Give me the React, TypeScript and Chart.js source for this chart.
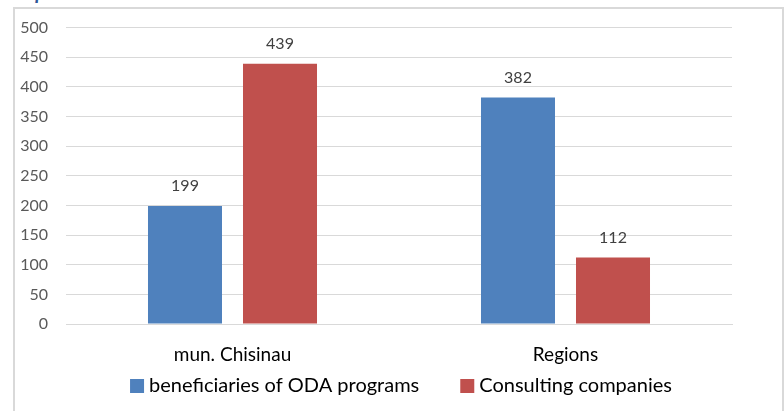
import React, { useEffect, useRef } from "react";
import { Chart, registerables } from "chart.js";

Chart.register(...registerables);

const categories = ["mun. Chisinau", "Regions"];
const seriesNames = ["beneficiaries of ODA programs", "Consulting companies"];
const odaValues = [199, 382];
const consultingValues = [439, 112];
const yTicks = [0, 50, 100, 150, 200, 250, 300, 350, 400, 450, 500];
const colors = ["#4F81BD", "#C0504D"];

const FONT = "Lato, 'Open Sans', sans-serif";

const dataLabelPlugin = {
  id: "dataLabels",
  afterDatasetsDraw(chart: any) {
    const ctx = chart.ctx;
    ctx.save();
    ctx.font = `16px ${FONT}`;
    ctx.fillStyle = "#404040";
    ctx.textAlign = "center";
    ctx.textBaseline = "middle";
    chart.data.datasets.forEach((ds: any, i: number) => {
      const meta = chart.getDatasetMeta(i);
      meta.data.forEach((bar: any, j: number) => {
        ctx.fillText(String(ds.data[j]), bar.x, bar.y - 20);
      });
    });
    ctx.restore();
  },
};

const legendPlugin = {
  id: "customLegend",
  afterDraw(chart: any) {
    const ctx = chart.ctx;
    ctx.save();
    ctx.font = `20px ${FONT}`;
    ctx.textBaseline = "middle";
    ctx.textAlign = "left";
    const box = 14;
    const gapText = 5;
    const gapItem = 41;
    const widths = seriesNames.map((n) => ctx.measureText(n).width);
    const total = widths.reduce((a, w) => a + box + gapText + w, 0) + gapItem * (seriesNames.length - 1);
    const area = chart.chartArea;
    let x = (area.left + area.right) / 2 + 2 - total / 2;
    const y = 386;
    seriesNames.forEach((n, i) => {
      ctx.fillStyle = colors[i];
      ctx.fillRect(x, y - box / 2, box, box);
      ctx.fillStyle = "#000000";
      ctx.fillText(n, x + box + gapText, y);
      x += box + gapText + widths[i] + gapItem;
    });
    ctx.restore();
  },
};

export default function App() {
  const ref = useRef<HTMLCanvasElement>(null);
  useEffect(() => {
    document.body.style.margin = "0";
    const chart = new Chart(ref.current!, {
      type: "bar",
      data: {
        labels: categories,
        datasets: [
          {
            label: seriesNames[0],
            data: odaValues,
            backgroundColor: colors[0],
            categoryPercentage: 0.5706,
            barPercentage: 0.779,
          },
          {
            label: seriesNames[1],
            data: consultingValues,
            backgroundColor: colors[1],
            categoryPercentage: 0.5706,
            barPercentage: 0.779,
          },
        ],
      },
      options: {
        animation: false,
        responsive: false,
        maintainAspectRatio: false,
        layout: { padding: { top: 20, right: 52, left: 0, bottom: 0 } },
        plugins: {
          legend: { display: false },
          tooltip: { enabled: false },
        },
        scales: {
          x: {
            grid: { display: false, drawTicks: false },
            border: { display: true, color: "#D9D9D9", width: 1 },
            ticks: {
              font: { family: FONT, size: 19 },
              color: "#000000",
              padding: 19,
            },
            afterFit(scale: any) {
              scale.height = 87;
            },
          },
          y: {
            min: 0,
            max: 500,
            afterBuildTicks(scale: any) {
              scale.ticks = yTicks.map((v) => ({ value: v }));
            },
            grid: { color: "#D9D9D9", lineWidth: 1, drawTicks: false },
            border: { display: false },
            ticks: {
              font: { family: FONT, size: 16 },
              color: "#595959",
              padding: 18,
            },
            afterFit(scale: any) {
              scale.width = 66;
            },
          },
        },
      },
      plugins: [dataLabelPlugin, legendPlugin],
    });
    return () => chart.destroy();
  }, []);

  return (
    <div
      style={{
        position: "fixed",
        left: 0,
        top: 0,
        width: 784,
        height: 411,
        background: "#ffffff",
        overflow: "hidden",
      }}
    >
      <div
        style={{
          position: "absolute",
          left: 0,
          top: -19,
          fontFamily: FONT,
          fontStyle: "italic",
          fontWeight: "bold",
          fontSize: 20,
          lineHeight: "20px",
          color: "#2E5597",
          whiteSpace: "nowrap",
        }}
      >
        companies
      </div>
      <div
        style={{
          position: "absolute",
          left: 13,
          top: 7,
          width: 767,
          height: 430,
          border: "2px solid #D9D9D9",
        }}
      />
      <canvas
        ref={ref}
        width={784}
        height={411}
        style={{ position: "absolute", left: 0, top: 0, width: 784, height: 411 }}
      />
    </div>
  );
}
